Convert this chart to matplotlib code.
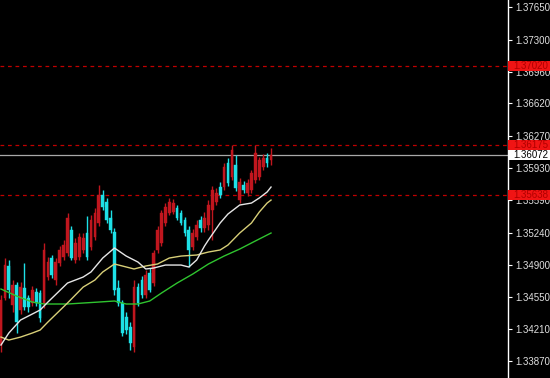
import matplotlib
matplotlib.use("Agg")
import matplotlib.pyplot as plt
from matplotlib.patches import Rectangle
from matplotlib.transforms import blended_transform_factory
import numpy as np

# ---- data (prices) ----
opens = [1.34041, 1.34543, 1.34885, 1.34468, 1.34682, 1.34415, 1.34650, 1.34543, 1.34490, 1.34607,
         1.34596, 1.34490, 1.34767, 1.34970, 1.34735, 1.34917, 1.34981, 1.35023, 1.35269, 1.34949,
         1.34981, 1.35056, 1.35237, 1.35088, 1.35194, 1.35344, 1.35643, 1.35568, 1.35397, 1.35248,
         1.34650, 1.34490, 1.34340, 1.34233, 1.34020, 1.34660, 1.34735, 1.34575, 1.34810, 1.34703,
         1.35056, 1.35130, 1.35344, 1.35451, 1.35461, 1.35504, 1.35451, 1.35376, 1.35269, 1.35088,
         1.35194, 1.35376, 1.35290, 1.35322, 1.35483, 1.35568, 1.35728, 1.35728, 1.35985, 1.35835,
         1.35963, 1.35589, 1.35750, 1.35664, 1.35696, 1.35803, 1.35835, 1.35942, 1.36038, 1.36017]
highs = [1.34575, 1.34970, 1.34949, 1.34735, 1.34714, 1.34714, 1.34917, 1.34575, 1.34671, 1.34650,
         1.34628, 1.35130, 1.34981, 1.35002, 1.34970, 1.35098, 1.35162, 1.35451, 1.35312, 1.35184,
         1.35237, 1.35237, 1.35419, 1.35429, 1.35504, 1.35750, 1.35696, 1.35611, 1.35483, 1.35290,
         1.34735, 1.34522, 1.34393, 1.34287, 1.34735, 1.34703, 1.34778, 1.34842, 1.34863, 1.35056,
         1.35312, 1.35483, 1.35557, 1.35611, 1.35600, 1.35536, 1.35483, 1.35408, 1.35312, 1.35280,
         1.35376, 1.35419, 1.35461, 1.35589, 1.35739, 1.35718, 1.35782, 1.35985, 1.36038, 1.36177,
         1.36070, 1.35824, 1.35792, 1.35814, 1.35910, 1.36177, 1.36049, 1.36081, 1.36091, 1.36145]
lows = [1.33966, 1.34522, 1.34543, 1.34393, 1.34169, 1.34372, 1.34415, 1.34393, 1.34458, 1.34458,
        1.34287, 1.34436, 1.34735, 1.34757, 1.34682, 1.34885, 1.34949, 1.34991, 1.34949, 1.34917,
        1.34949, 1.35023, 1.34949, 1.35056, 1.35162, 1.35312, 1.35483, 1.35344, 1.35237, 1.34575,
        1.34458, 1.34137, 1.34159, 1.33988, 1.33966, 1.34458, 1.34543, 1.34543, 1.34607, 1.34671,
        1.35023, 1.35098, 1.35312, 1.35429, 1.35440, 1.35376, 1.35322, 1.35205, 1.34874, 1.35056,
        1.35162, 1.35248, 1.35248, 1.35269, 1.35162, 1.35536, 1.35611, 1.35696, 1.35739, 1.35803,
        1.35686, 1.35557, 1.35664, 1.35632, 1.35664, 1.35771, 1.35803, 1.35910, 1.35942, 1.35963]
closes = [1.34522, 1.34895, 1.34628, 1.34682, 1.34287, 1.34660, 1.34447, 1.34447, 1.34628, 1.34490,
          1.34329, 1.35056, 1.34927, 1.34789, 1.34927, 1.35056, 1.35109, 1.35397, 1.34970, 1.35130,
          1.35194, 1.35184, 1.34981, 1.35376, 1.35451, 1.35643, 1.35515, 1.35376, 1.35269, 1.34628,
          1.34490, 1.34169, 1.34201, 1.34062, 1.34660, 1.34490, 1.34575, 1.34789, 1.34628, 1.35023,
          1.35269, 1.35451, 1.35515, 1.35568, 1.35557, 1.35397, 1.35344, 1.35237, 1.35056, 1.35237,
          1.35322, 1.35290, 1.35397, 1.35536, 1.35696, 1.35664, 1.35643, 1.35942, 1.35771, 1.36123,
          1.35718, 1.35782, 1.35696, 1.35771, 1.35878, 1.36091, 1.36017, 1.36038, 1.35985, 1.36072]

ma_fast_idx = [0, 2, 5, 8, 10, 12, 17, 21, 23, 26, 29, 32, 35, 37, 39, 42, 46, 48, 50, 52, 53, 56, 58, 61, 64, 66, 68, 69]
ma_fast = [1.34041, 1.34169, 1.34308, 1.34372, 1.34415, 1.34500, 1.34703, 1.34767, 1.34821, 1.34970,
           1.35077, 1.34991, 1.34927, 1.34853, 1.34863, 1.34895, 1.34895, 1.34874, 1.34949, 1.35098,
           1.35162, 1.35344, 1.35440, 1.35536, 1.35557, 1.35611, 1.35675, 1.35728]

ma_mid_idx = [0, 2, 5, 8, 10, 12, 17, 21, 24, 26, 29, 31, 34, 37, 40, 43, 46, 50, 53, 56, 58, 61, 64, 66, 68, 69]
ma_mid = [1.34126, 1.34094, 1.34126, 1.34169, 1.34201, 1.34287, 1.34490, 1.34660, 1.34735, 1.34821,
          1.34906, 1.34885, 1.34853, 1.34885, 1.34906, 1.34970, 1.34991, 1.35002, 1.35034, 1.35056,
          1.35109, 1.35237, 1.35344, 1.35461, 1.35557, 1.35589]

ma_slow_idx = [0, 4, 8, 11, 17, 25, 29, 32, 35, 38, 41, 45, 49, 53, 57, 61, 65, 69]
ma_slow = [1.34639, 1.34564, 1.34500, 1.34479, 1.34479, 1.34500, 1.34511, 1.34479, 1.34479, 1.34511,
           1.34596, 1.34703, 1.34799, 1.34906, 1.34991, 1.35066, 1.35152, 1.35237]

tick_values = [1.37650, 1.37300, 1.36960, 1.36620, 1.36270, 1.35930, 1.35590,
               1.35240, 1.34900, 1.34550, 1.34210, 1.33870]
tick_labels = ["1.37650", "1.37300", "1.36960", "1.36620", "1.36270", "1.35930", "1.35590",
               "1.35240", "1.34900", "1.34550", "1.34210", "1.33870"]

level_values = [1.37020, 1.36175, 1.35638]
level_labels = ["1.37020", "1.36175", "1.35638"]
bid_value = 1.36072
bid_label = "1.36072"

# ---- styling ----
BG = "#000000"
UP = "#C0161E"
DOWN = "#1EE0E6"

W, H = 550, 378
fig = plt.figure(figsize=(W / 100, H / 100), dpi=100, facecolor=BG)
ax = fig.add_axes([0, 0, 508 / W, 1.0], facecolor=BG)

x = np.arange(len(opens))
o = np.array(opens); c = np.array(closes)
hi = np.array(highs); lo = np.array(lows)
colors = [UP if cc >= oo else DOWN for oo, cc in zip(o, c)]

ax.vlines(x, lo, hi, colors=colors, linewidth=1.0, zorder=3)
body_bottom = np.minimum(o, c)
body_h = np.maximum(np.abs(c - o), 0.00004)
ax.bar(x, body_h, bottom=body_bottom, width=0.7, color=colors, edgecolor=colors,
       linewidth=0.3, zorder=3)

ax.plot(ma_slow_idx, ma_slow, color="#2FC42F", linewidth=1.0, zorder=4)
ax.plot(ma_mid_idx, ma_mid, color="#D8CF78", linewidth=1.0, zorder=4)
ax.plot(ma_fast_idx, ma_fast, color="#E6E6E6", linewidth=1.0, zorder=4)

for v in level_values:
    ax.axhline(v, color="#C00000", linewidth=0.9, linestyle=(0, (3, 3)), zorder=2)
ax.axhline(bid_value, color="#A8A8A8", linewidth=0.9, zorder=2)

ax.set_xlim(-0.25, 129.55)
ax.set_ylim(1.33689, 1.37725)

# spines and ticks
for s in ["top", "left", "bottom"]:
    ax.spines[s].set_visible(False)
ax.spines["right"].set_color("#FFFFFF")
ax.spines["right"].set_linewidth(1.0)
ax.set_xticks([])
ax.yaxis.tick_right()
ax.set_yticks(tick_values)
ax.set_yticklabels(tick_labels)
ax.tick_params(axis="y", colors="#FFFFFF", length=3, width=0.8, pad=2,
               labelsize=7, labelcolor="#E0E0E0")
for lab in ax.get_yticklabels():
    lab.set_family(["Liberation Sans", "DejaVu Sans"])

# price tags
tr = blended_transform_factory(ax.transAxes, ax.transData)
box_h = 10 * (1.37725 - 1.33689) / H
right = W / 508
for v, lab in zip(level_values, level_labels):
    ax.add_patch(Rectangle((1.0, v - box_h / 2), right - 1.0, box_h, transform=tr,
                           facecolor="#F01414", edgecolor="none", clip_on=False, zorder=6))
    ax.text(1.0 + 5 / 508, v, lab, transform=tr, ha="left", va="center", fontsize=7,
            color="#B00000", family=["Liberation Sans", "DejaVu Sans"], zorder=7, clip_on=False)
ax.add_patch(Rectangle((1.0, bid_value - box_h / 2), right - 1.0, box_h, transform=tr,
                       facecolor="#FFFFFF", edgecolor="none", clip_on=False, zorder=6))
ax.text(1.0 + 5 / 508, bid_value, bid_label, transform=tr, ha="left", va="center", fontsize=7,
        color="#000000", family=["Liberation Sans", "DejaVu Sans"], zorder=7, clip_on=False)

fig.savefig("out.png", dpi=100, facecolor=BG)
